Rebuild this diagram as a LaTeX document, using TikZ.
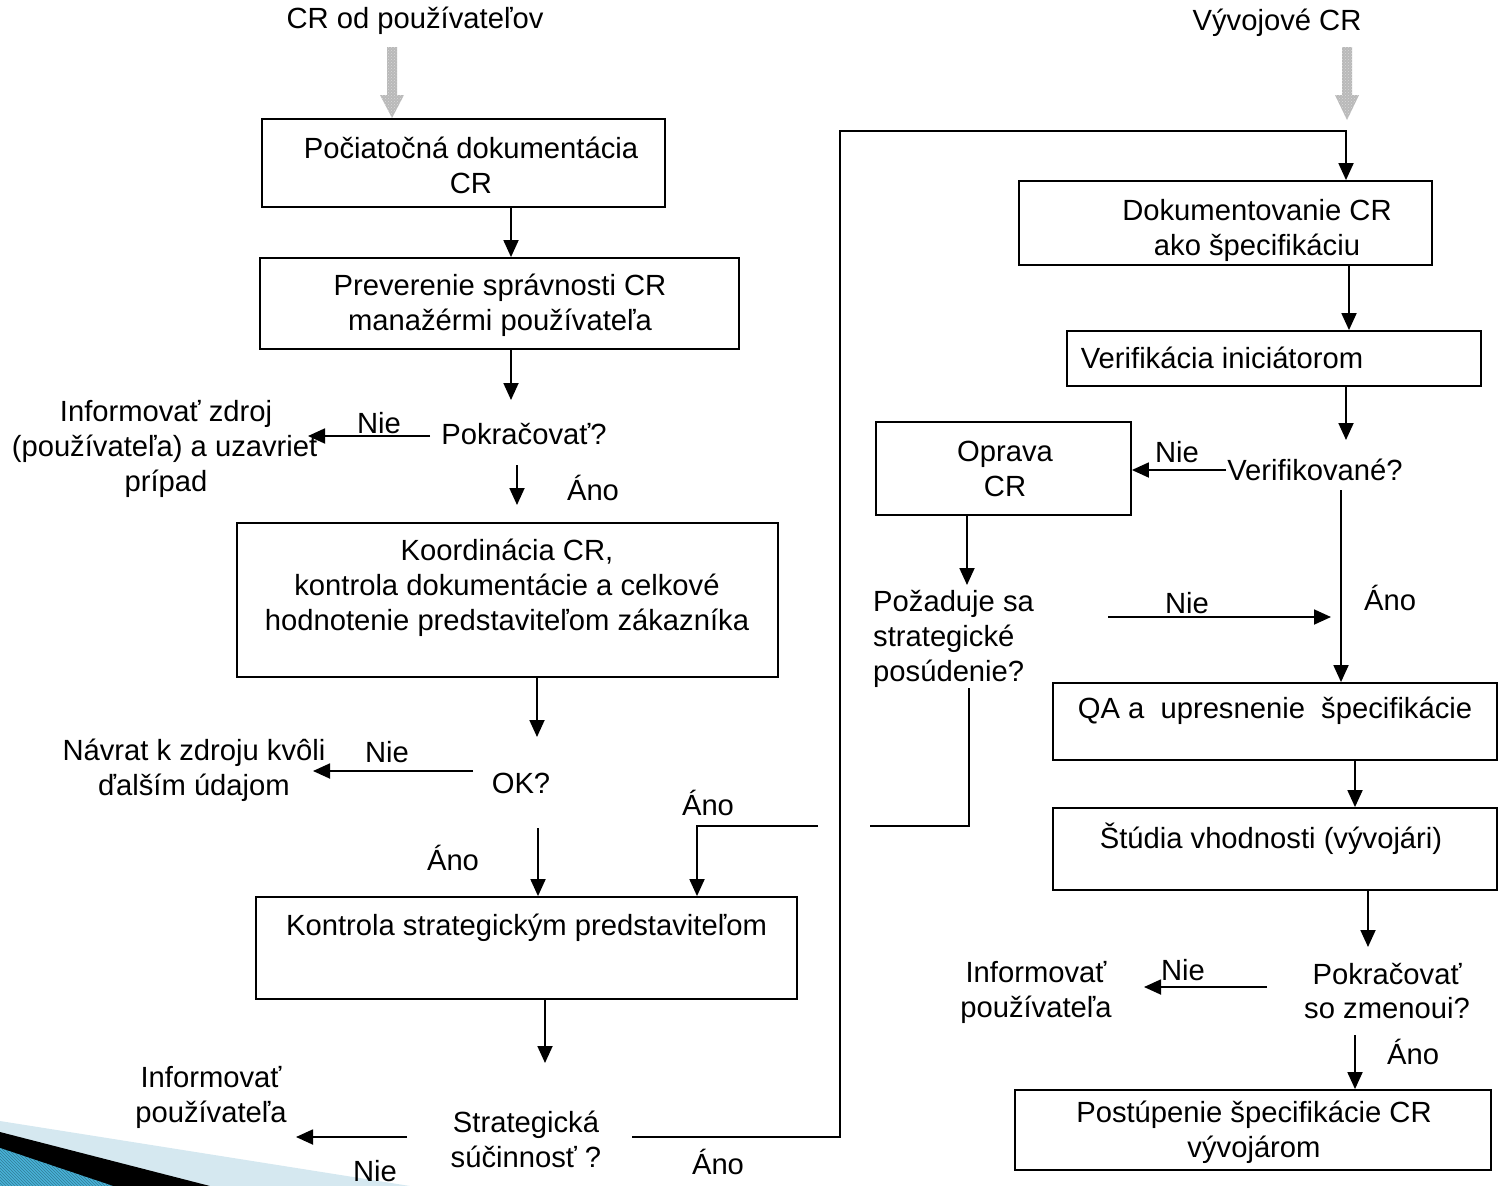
\documentclass[tikz,border=0pt]{standalone}
\usepackage{fontspec}
\setmainfont{Liberation Sans}
\usetikzlibrary{arrows.meta,patterns}
\definecolor{lightband}{HTML}{D5E8F0}
\definecolor{blueband}{HTML}{48B2D8}
\begin{document}
\begin{tikzpicture}[x=1pt,y=-1pt,
  every node/.style={font=\fontsize{29.2}{35}\selectfont},
  box/.style={draw, line width=1.8pt, inner sep=0pt},
  txt/.style={align=center, inner sep=0pt},
  arr/.style={line width=1.8pt, -{Triangle[width=15pt,length=17pt]}},
  ln/.style={line width=1.8pt}]
\useasboundingbox (0,0) rectangle (1502,1186);

% bottom-left slide decoration
\fill[lightband] (0,1121) -- (410,1186) -- (0,1186) -- cycle;
\fill[black] (0,1132) -- (210,1186) -- (0,1186) -- cycle;
\fill[blueband] (0,1148) -- (113,1186) -- (0,1186) -- cycle;
\fill[pattern=north west lines, pattern color=blueband!70!black] (0,1148) -- (113,1186) -- (0,1186) -- cycle;

% gray input arrows
\foreach \cx/\tip in {392/118, 1347/120}{
  \fill[gray!55] (\cx-5,47) -- (\cx+5,47) -- (\cx+5,95) -- (\cx+12,95) -- (\cx,\tip) -- (\cx-12,95) -- (\cx-5,95) -- cycle;
  \fill[pattern=crosshatch dots, pattern color=gray!30] (\cx-5,47) -- (\cx+5,47) -- (\cx+5,95) -- (\cx+12,95) -- (\cx,\tip) -- (\cx-12,95) -- (\cx-5,95) -- cycle;
}

% boxes
\node[box, minimum width=403pt, minimum height=88pt]  (b1)  at (463.5,163) {};
\node[box, minimum width=479pt, minimum height=91pt]  (b2)  at (499.5,303.5) {};
\node[box, minimum width=541pt, minimum height=154pt] (b3)  at (507.5,600) {};
\node[box, minimum width=541pt, minimum height=102pt] (b4)  at (526.5,948) {};
\node[box, minimum width=413pt, minimum height=84pt]  (b5)  at (1225.5,223) {};
\node[box, minimum width=414pt, minimum height=55pt]  (b6)  at (1274,358.5) {};
\node[box, minimum width=255pt, minimum height=93pt]  (b7)  at (1003.5,468.5) {};
\node[box, minimum width=444pt, minimum height=77pt]  (b8)  at (1275,721.5) {};
\node[box, minimum width=444pt, minimum height=82pt]  (b9)  at (1275,849) {};
\node[box, minimum width=476pt, minimum height=80pt]  (b10) at (1253,1130) {};

% box texts
\node[txt] (t1)  at (471,165)    {Počiatočná dokumentácia\\CR};
\node[txt] (t2)  at (500,305)    {Preverenie správnosti CR\\manažérmi používateľa};
\node[txt] (t3)  at (507,588)    {Koordinácia CR,\\kontrola dokumentácie a celkové\\hodnotenie predstaviteľom zákazníka};
\node[txt] (t4)  at (526.5,928)  {Kontrola strategickým predstaviteľom};
\node[txt] (t5)  at (1257,230)   {Dokumentovanie CR\\ako špecifikáciu};
\node[txt] (t6)  at (1222,358)   {Verifikácia iniciátorom};
\node[txt] (t7)  at (1005,468.5) {Oprava\\CR};
\node[txt] (t8)  at (1275,711)   {QA a\ \ upresnenie\ \ špecifikácie};
\node[txt] (t9)  at (1271,839)   {Štúdia vhodnosti (vývojári)};
\node[txt] (t10) at (1254,1132)  {Postúpenie špecifikácie CR\\vývojárom};

% free texts
\node[txt] (src1) at (415,21)   {CR od používateľov};
\node[txt] (src2) at (1277,23)  {Vývojové CR};
\node[txt] (q1)   at (524,434)  {Pokračovať?};
\node[txt] (e1)   at (166,449)  {Informovať zdroj\\(používateľa) a uzavrieť\\prípad};
\node[txt] (q2)   at (521,783)  {OK?};
\node[txt] (e2)   at (194,770)  {Návrat k zdroju kvôli\\ďalším údajom};
\node[txt] (q3)   at (526,1139) {Strategická\\súčinnosť ?};
\node[txt] (e3)   at (211,1097) {Informovať\\používateľa};
\node[txt] (q4)   at (1315,470) {Verifikované?};
\node[txt, align=left, anchor=west] (q5) at (873,639) {Požaduje sa\\strategické\\posúdenie?};
\node[txt] (q6)   at (1387,991) {Pokračovať\\so zmenoui?};
\node[txt] (e4)   at (1036,992) {Informovať\\používateľa};

% branch labels
\node[txt] (l1)  at (379,423)  {Nie};
\node[txt] (l2)  at (593,488)  {Áno};
\node[txt] (l3)  at (387,752)  {Nie};
\node[txt] (l4)  at (453,858)  {Áno};
\node[txt] (l5)  at (708,803)  {Áno};
\node[txt] (l6)  at (375,1171) {Nie};
\node[txt] (l7)  at (718,1162) {Áno};
\node[txt] (l8)  at (1177,452) {Nie};
\node[txt] (l9)  at (1187,603) {Nie};
\node[txt] (l10) at (1390,598) {Áno};
\node[txt] (l11) at (1183,970) {Nie};
\node[txt] (l12) at (1413,1052) {Áno};

% free connector ends
\coordinate (c2e)  at (511,400);
\coordinate (c3s)  at (430,436);  \coordinate (c3e)  at (308,436);
\coordinate (c4s)  at (517,465);  \coordinate (c4e)  at (517,505);
\coordinate (c5e)  at (537,737);
\coordinate (c6s)  at (473,771);  \coordinate (c6e)  at (313,771);
\coordinate (c7s)  at (538,828);
\coordinate (c8s)  at (818,826);
\coordinate (c9e)  at (545,1063);
\coordinate (c10s) at (407,1137); \coordinate (c10e) at (296,1137);
\coordinate (c11s) at (632,1137); \coordinate (c11a) at (840,1137); \coordinate (c11b) at (840,131);
\coordinate (c13e) at (1346,440);
\coordinate (c14s) at (1226,470);
\coordinate (c15e) at (967,585);
\coordinate (c16s) at (1108,617); \coordinate (c16e) at (1331,617);
\coordinate (c17s) at (1341,490);
\coordinate (c18s) at (969,688);  \coordinate (c18a) at (969,826); \coordinate (c18e) at (870,826);
\coordinate (c20e) at (1368,947);
\coordinate (c21s) at (1267,987); \coordinate (c21e) at (1144,987);
\coordinate (c22s) at (1355,1035);

% connectors
\draw[arr] ([xshift=47.5pt]b1.south) -- ([xshift=11.5pt]b2.north);
\draw[arr] ([xshift=11.5pt]b2.south) -- (c2e);
\draw[arr] (c3s) -- (c3e);
\draw[arr] (c4s) -- (c4e);
\draw[arr] ([xshift=29.5pt]b3.south) -- (c5e);
\draw[arr] (c6s) -- (c6e);
\draw[arr] (c7s) -- ([xshift=11.5pt]b4.north);
\draw[arr] (c8s) -| ([xshift=170.5pt]b4.north);
\draw[arr] ([xshift=18.5pt]b4.south) -- (c9e);
\draw[arr] (c10s) -- (c10e);
\draw[arr] (c11s) -- (c11a) -- (c11b) -| ([xshift=120.5pt]b5.north);
\draw[arr] ([xshift=123.5pt]b5.south) -- ([xshift=75pt]b6.north);
\draw[arr] ([xshift=72pt]b6.south) -- (c13e);
\draw[arr] (c14s) -- ([yshift=-1.5pt]b7.east);
\draw[arr] ([xshift=-36.5pt]b7.south) -- (c15e);
\draw[arr] (c16s) -- (c16e);
\draw[arr] (c17s) -- ([xshift=66pt]b8.north);
\draw[ln]  (c18s) -- (c18a) -- (c18e);
\draw[arr] ([xshift=80pt]b8.south) -- ([xshift=80pt]b9.north);
\draw[arr] ([xshift=93pt]b9.south) -- (c20e);
\draw[arr] (c21s) -- (c21e);
\draw[arr] (c22s) -- ([xshift=102pt]b10.north);
\end{tikzpicture}
\end{document}
